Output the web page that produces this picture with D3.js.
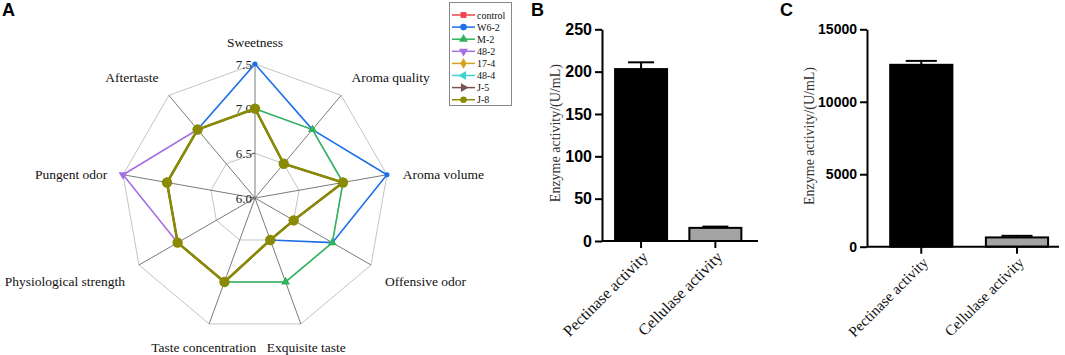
<!DOCTYPE html>
<html>
<head>
<meta charset="utf-8">
<script src="https://cdn.jsdelivr.net/npm/d3@7"></script>
<style>
  body { margin: 0; background: #fff; }
  svg { display: block; }
  .serif { font-family: "Liberation Serif", "Times New Roman", serif; }
  .sans { font-family: "Liberation Sans", Arial, sans-serif; }
</style>
</head>
<body>
<svg id="chart" width="1065" height="355"></svg>
<script>
// ---- radar data (panel A) ----
const attributes = ["Sweetness", "Aroma quality", "Aroma volume", "Offensive odor", "Exquisite taste",
  "Taste concentration", "Physiological strength", "Pungent odor", "Aftertaste"];
const radarTicks = [6.0, 6.5, 7.0, 7.5];
const seriesNames = ["control", "W6-2", "M-2", "48-2", "17-4", "48-4", "J-5", "J-8"];
const seriesColors = ["#f0434d", "#1c6fe6", "#2eb25c", "#a56de3", "#d4a219", "#3ed3cf", "#7b5050", "#8a8a06"];
const controlScores = [7.0, 6.5, 7.0, 6.5, 6.5, 7.0, 7.0, 7.0, 7.0];
const w62Scores = [7.5, 7.0, 7.5, 7.0, 6.5, 7.0, 7.0, 7.0, 7.0];
const m2Scores = [7.0, 7.0, 7.0, 7.0, 7.0, 7.0, 7.0, 7.0, 7.0];
const s482Scores = [7.0, 6.5, 7.0, 6.5, 6.5, 7.0, 7.0, 7.5, 7.0];
const s174Scores = [7.0, 6.5, 7.0, 6.5, 6.5, 7.0, 7.0, 7.0, 7.0];
const s484Scores = [7.0, 6.5, 7.0, 6.5, 6.5, 7.0, 7.0, 7.0, 7.0];
const j5Scores = [7.0, 6.5, 7.0, 6.5, 6.5, 7.0, 7.0, 7.0, 7.0];
const j8Scores = [7.0, 6.5, 7.0, 6.5, 6.5, 7.0, 7.0, 7.0, 7.0];
const seriesScores = [controlScores, w62Scores, m2Scores, s482Scores, s174Scores, s484Scores, j5Scores, j8Scores];

// ---- enzyme data (panels B, C) ----
const enzymes = ["Pectinase activity", "Cellulase activity"];
const enzymeB = [203, 15.5];
const enzymeBErr = [8, 1.5];
const enzymeC = [12550, 640];
const enzymeCErr = [270, 110];
const ticksB = [0, 50, 100, 150, 200, 250];
const ticksC = [0, 5000, 10000, 15000];
const barFills = ["#000000", "#a3a3a3"];

const svg = d3.select("#chart");

// panel letters
svg.append("g").attr("class", "sans")
  .selectAll("text")
  .data([["A", 2], ["B", 531], ["C", 780]])
  .join("text")
  .attr("x", d => d[1])
  .attr("y", 16)
  .attr("font-size", 18)
  .attr("font-weight", "bold")
  .text(d => d[0]);

// ================= Panel A: radar =================
const cx = 255, cy = 198;
const rScale = d3.scaleLinear().domain([6, 7.5]).range([0, 134]);
const angle = i => i * 2 * Math.PI / attributes.length;
const pt = (i, v) => [cx + rScale(v) * Math.sin(angle(i)), cy - rScale(v) * Math.cos(angle(i))];

const radar = svg.append("g").attr("class", "serif");

// rings
radar.selectAll(".ring")
  .data(radarTicks.slice(1))
  .join("polygon")
  .attr("class", "ring")
  .attr("points", v => attributes.map((a, i) => pt(i, v).join(",")).join(" "))
  .attr("fill", "none")
  .attr("stroke", "#c4c4c4")
  .attr("stroke-width", 1);

// spokes
radar.selectAll(".spoke")
  .data(attributes)
  .join("line")
  .attr("class", "spoke")
  .attr("x1", cx).attr("y1", cy)
  .attr("x2", (d, i) => pt(i, 7.5)[0])
  .attr("y2", (d, i) => pt(i, 7.5)[1])
  .attr("stroke", "#7a7a7a")
  .attr("stroke-width", 1);

// tick labels on first axis
radar.selectAll(".rtick")
  .data(radarTicks)
  .join("text")
  .attr("class", "rtick")
  .attr("x", cx - 3)
  .attr("y", d => cy - rScale(d))
  .attr("dy", "0.35em")
  .attr("text-anchor", "end")
  .attr("font-size", 13)
  .attr("fill", "#222")
  .text(d => d.toFixed(1));
radar.selectAll(".rtickmark")
  .data(radarTicks)
  .join("line")
  .attr("x1", cx - 3).attr("x2", cx)
  .attr("y1", d => cy - rScale(d)).attr("y2", d => cy - rScale(d))
  .attr("stroke", "#555");

// axis labels
radar.selectAll(".alabel")
  .data(attributes)
  .join("text")
  .attr("class", "alabel")
  .attr("x", (d, i) => cx + 150 * Math.sin(angle(i)))
  .attr("y", (d, i) => {
    const c = Math.cos(angle(i));
    const off = c > 0.5 ? -6 : (c < -0.3 ? 8 : 2);
    return cy - 150 * c + off;
  })
  .attr("dy", "0.35em")
  .attr("text-anchor", (d, i) => {
    const s = Math.sin(angle(i));
    return Math.abs(s) < 0.4 ? "middle" : (s > 0 ? "start" : "end");
  })
  .attr("font-size", 13.5)
  .attr("fill", "#111")
  .text(d => d);

const symbolTypes = [d3.symbolSquare, d3.symbolCircle, d3.symbolTriangle, d3.symbolTriangle,
  d3.symbolDiamond, d3.symbolTriangle, d3.symbolTriangle, d3.symbolCircle];
const symbolRotate = [0, 0, 0, 180, 0, -90, 90, 0];

const line = d3.line().curve(d3.curveLinearClosed);
seriesNames.forEach((name, s) => {
  const g = radar.append("g");
  const pts = seriesScores[s].map((v, i) => pt(i, v));
  const isLast = s === seriesNames.length - 1;
  g.append("path")
    .attr("d", line(pts))
    .attr("fill", "none")
    .attr("stroke", seriesColors[s])
    .attr("stroke-width", isLast ? 2.6 : 1.6);
  g.selectAll("path.m")
    .data(pts)
    .join("path")
    .attr("class", "m")
    .attr("transform", d => `translate(${d[0]},${d[1]}) rotate(${symbolRotate[s]})`)
    .attr("d", d3.symbol().type(symbolTypes[s]).size(isLast ? 85 : (s === 1 ? 20 : 34)))
    .attr("fill", seriesColors[s]);
});

// legend
const legend = svg.append("g").attr("class", "serif");
legend.append("rect")
  .attr("x", 449.5).attr("y", 2.5)
  .attr("width", 62).attr("height", 103)
  .attr("fill", "#fff")
  .attr("stroke", "#888");
const legendItem = legend.selectAll(".litem")
  .data(seriesNames)
  .join("g")
  .attr("class", "litem")
  .attr("transform", (d, i) => `translate(452, ${15 + i * 12.1})`);
legendItem.append("line")
  .attr("x1", 0).attr("x2", 23)
  .attr("stroke", (d, i) => seriesColors[i])
  .attr("stroke-width", 1.5);
legendItem.append("path")
  .attr("transform", (d, i) => `translate(11.5,0) rotate(${symbolRotate[i]})`)
  .attr("d", (d, i) => d3.symbol().type(symbolTypes[i]).size(34)())
  .attr("fill", (d, i) => seriesColors[i]);
legendItem.append("text")
  .attr("x", 25)
  .attr("dy", "0.35em")
  .attr("font-size", 10)
  .attr("fill", "#111")
  .text(d => d);

// ================= Panels B, C: bars =================
function barPanel(opts) {
  const { x0, x1, y0, y1, values, errs, ticks, fontSize, labelSize, align, padIn, padOut, titleX } = opts;
  const g = svg.append("g");
  const y = d3.scaleLinear().domain([0, ticks[ticks.length - 1]]).range([y0, y1]);
  const x = d3.scaleBand().domain(enzymes).range([x0, x1])
    .paddingInner(padIn).paddingOuter(padOut).align(align);

  // bars
  g.selectAll(".bar")
    .data(enzymes)
    .join("rect")
    .attr("class", "bar")
    .attr("x", d => x(d))
    .attr("y", (d, i) => y(values[i]))
    .attr("width", x.bandwidth())
    .attr("height", (d, i) => y0 - y(values[i]))
    .attr("fill", (d, i) => barFills[i])
    .attr("stroke", "#000")
    .attr("stroke-width", 2);

  // error bars (upper only)
  const eb = g.selectAll(".err").data(enzymes).join("g").attr("class", "err");
  eb.append("line")
    .attr("x1", d => x(d) + x.bandwidth() / 2)
    .attr("x2", d => x(d) + x.bandwidth() / 2)
    .attr("y1", (d, i) => y(values[i]))
    .attr("y2", (d, i) => y(values[i] + errs[i]))
    .attr("stroke", "#000").attr("stroke-width", 2);
  eb.append("line")
    .attr("x1", d => x(d) + x.bandwidth() / 4)
    .attr("x2", d => x(d) + x.bandwidth() * 3 / 4)
    .attr("y1", (d, i) => y(values[i] + errs[i]))
    .attr("y2", (d, i) => y(values[i] + errs[i]))
    .attr("stroke", "#000").attr("stroke-width", 2);

  // y axis
  const ya = g.append("g")
    .attr("transform", `translate(${x0},0)`)
    .call(d3.axisLeft(y).tickValues(ticks).tickFormat(d3.format("d"))
      .tickSize(7).tickSizeOuter(0).tickPadding(3));
  ya.selectAll("path, line").attr("stroke", "#000").attr("stroke-width", 2);
  ya.selectAll("text")
    .attr("class", "sans")
    .attr("font-size", fontSize)
    .attr("font-weight", "bold")
    .attr("fill", "#000");

  // x axis
  const xa = g.append("g")
    .attr("transform", `translate(0,${y0})`)
    .call(d3.axisBottom(x).tickSize(7).tickSizeOuter(0));
  xa.select(".domain").attr("d", `M${x0},0H${x1}`);
  xa.selectAll("path, line").attr("stroke", "#000").attr("stroke-width", 2);
  xa.selectAll("text")
    .attr("class", "serif")
    .attr("font-size", labelSize)
    .attr("fill", "#111")
    .attr("text-anchor", "end")
    .attr("x", 4)
    .attr("y", 13)
    .attr("dy", "0.35em")
    .attr("transform", "rotate(-45, 4, 13)");

  // y title
  g.append("text")
    .attr("class", "serif")
    .attr("transform", `translate(${titleX},${(y0 + y1) / 2 - 2}) rotate(-90)`)
    .attr("text-anchor", "middle")
    .attr("dy", "0.35em")
    .attr("font-size", 14)
    .attr("fill", "#333")
    .text("Enzyme activity/(U/mL)");
}

barPanel({ x0: 602, x1: 758, y0: 241, y1: 29.3, values: enzymeB, errs: enzymeBErr, ticks: ticksB,
  fontSize: 16, labelSize: 16, align: 0.44, padIn: 0.3, padOut: 0.2, titleX: 555 });
barPanel({ x0: 867, x1: 1059, y0: 246.7, y1: 29.3, values: enzymeC, errs: enzymeCErr, ticks: ticksC,
  fontSize: 14, labelSize: 15, align: 0.68, padIn: 0.35, padOut: 0.178, titleX: 809 });
</script>
</body>
</html>
